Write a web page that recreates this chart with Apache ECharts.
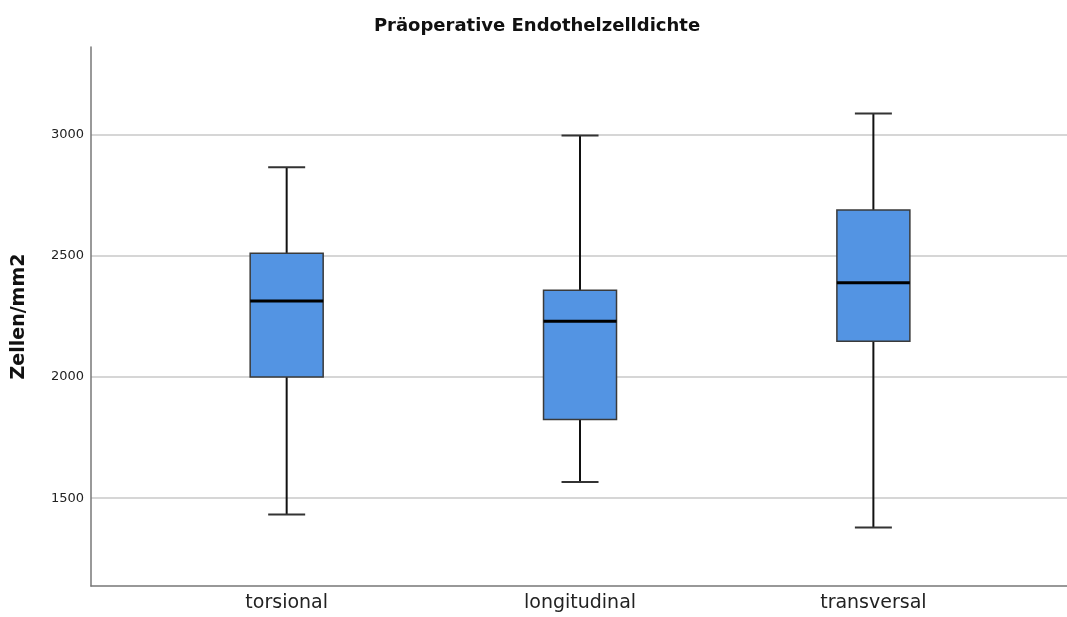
<!DOCTYPE html>
<html>
<head>
<meta charset="utf-8">
<script src="https://cdn.jsdelivr.net/npm/echarts@6/dist/echarts.min.js"></script>
<style>
html,body{margin:0;padding:0;background:#fff;}
#chart{width:1067px;height:617px;}
</style>
</head>
<body>
<div id="chart"></div>
<script>
const categories = ['torsional', 'longitudinal', 'transversal'];
// [min, Q1, median, Q3, max]
const torsionalBox = [1433, 2000, 2313, 2510, 2865];
const longitudinalBox = [1567, 1825, 2230, 2358, 2996];
const transversalBox = [1379, 2147, 2389, 2689, 3087];
const yTicks = [1500, 2000, 2500, 3000];
const chartTitle = 'Präoperative Endothelzelldichte';
const yName = 'Zellen/mm2';

const boxes = [torsionalBox, longitudinalBox, transversalBox];
const boxData = boxes.map((b, i) => [i].concat(b));

const BOX_HALF = 36.5;
const CAP_HALF = 18.5;

function renderBox(params, api) {
  const x = api.value(0);
  const pMin = api.coord([x, api.value(1)]);
  const pQ1 = api.coord([x, api.value(2)]);
  const pMed = api.coord([x, api.value(3)]);
  const pQ3 = api.coord([x, api.value(4)]);
  const pMax = api.coord([x, api.value(5)]);
  const cx = pMed[0];
  const lineStyle = {stroke: '#111', lineWidth: 2};
  return {
    type: 'group',
    children: [
      {type: 'line', shape: {x1: cx, y1: pQ3[1], x2: cx, y2: pMax[1]}, style: lineStyle},
      {type: 'line', shape: {x1: cx, y1: pQ1[1], x2: cx, y2: pMin[1]}, style: lineStyle},
      {type: 'line', shape: {x1: cx - CAP_HALF, y1: pMax[1], x2: cx + CAP_HALF, y2: pMax[1]}, style: {stroke: '#333', lineWidth: 2}},
      {type: 'line', shape: {x1: cx - CAP_HALF, y1: pMin[1], x2: cx + CAP_HALF, y2: pMin[1]}, style: {stroke: '#333', lineWidth: 2}},
      {type: 'rect', shape: {x: cx - BOX_HALF, y: pQ3[1], width: BOX_HALF * 2, height: pQ1[1] - pQ3[1]},
        style: {fill: '#5394e3', stroke: '#3a3a3a', lineWidth: 1.5}},
      {type: 'line', shape: {x1: cx - BOX_HALF, y1: pMed[1], x2: cx + BOX_HALF, y2: pMed[1]}, style: {stroke: '#000', lineWidth: 3}}
    ]
  };
}

const chart = echarts.init(document.getElementById('chart'), null, {renderer: 'canvas'});
chart.setOption({
  animation: false,
  backgroundColor: '#ffffff',
  title: {
    text: chartTitle,
    left: 532, top: 12, textAlign: 'center',
    textStyle: {fontFamily: 'DejaVu Sans', fontWeight: 'bold', fontSize: 18, color: '#111'}
  },
  grid: {left: 91, right: 0, top: 47, bottom: 31, containLabel: false},
  xAxis: {
    type: 'value',
    min: -0.667, max: 2.66,
    axisLine: {show: true, onZero: false, lineStyle: {color: '#777', width: 1.5}},
    axisTick: {show: false},
    splitLine: {show: false},
    axisLabel: {
      customValues: [0, 1, 2],
      formatter: v => categories[Math.round(v)],
      fontFamily: 'DejaVu Sans', fontSize: 19, color: '#222', margin: 8
    }
  },
  yAxis: {
    type: 'value',
    min: 1138, max: 3361,
    name: yName,
    nameLocation: 'middle',
    nameGap: 62,
    nameTextStyle: {fontFamily: 'DejaVu Sans', fontWeight: 'bold', fontSize: 19, color: '#111'},
    axisLine: {show: true, onZero: false, lineStyle: {color: '#777', width: 1.5}},
    axisTick: {show: false, customValues: yTicks},
    axisLabel: {customValues: yTicks, formatter: v => String(v), fontFamily: 'DejaVu Sans', fontSize: 13, color: '#222', margin: 7},
    splitLine: {show: true, lineStyle: {color: '#c8c8c8', width: 1.5}}
  },
  series: [{
    type: 'custom',
    data: boxData,
    encode: {x: 0, y: [1, 2, 3, 4, 5]},
    renderItem: renderBox,
    emphasis: {disabled: true}
  }]
});
</script>
</body>
</html>
